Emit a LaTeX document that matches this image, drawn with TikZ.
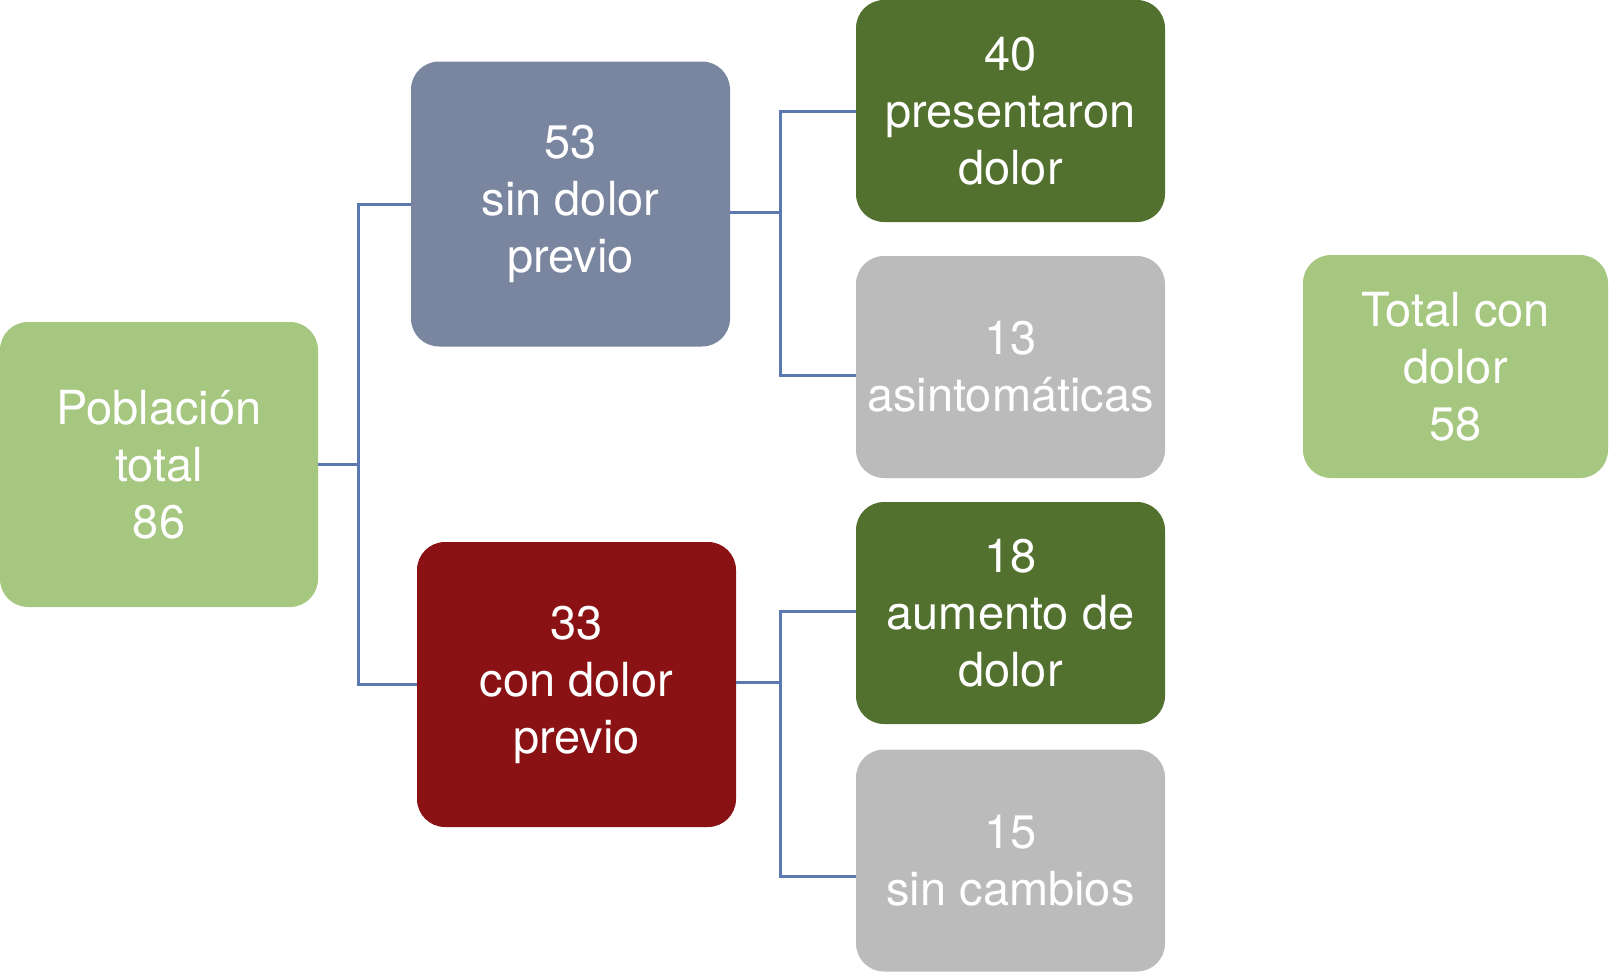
\documentclass[tikz,border=0pt]{standalone}
\usepackage{fontspec}
\setmainfont{TeX Gyre Heros}
\definecolor{lgreen}{HTML}{A6C780}
\definecolor{slate}{HTML}{7A86A0}
\definecolor{dred}{HTML}{8B1214}
\definecolor{dgreen}{HTML}{53712E}
\definecolor{lgray}{HTML}{BBBBBB}
\definecolor{conncol}{HTML}{5B79B1}
\begin{document}
\begin{tikzpicture}[x=1pt,y=-1pt,
  box/.style={rectangle, rounded corners=28pt, inner sep=0pt, align=center,
    text=white, font=\fontsize{47}{57}\selectfont},
  bigbox/.style={box, minimum width=319pt, minimum height=285pt},
  smallbox/.style={box, minimum width=309pt, minimum height=222pt},
  conn/.style={draw=conncol, line width=3pt}]
\fill[white] (0,0) rectangle (1612,972);
\useasboundingbox (0,0) rectangle (1612,972);

\node[bigbox, fill=lgreen, minimum width=318pt] (pob) at (159,464.5) {Población\\total\\86};
\node[bigbox, fill=slate] (sdp) at (570.5,204) {53\\sin dolor\\previo};
\node[bigbox, fill=dred] (cdp) at (576.5,684.5) {33\\con dolor\\previo};
\node[smallbox, fill=dgreen] (p40) at (1010.5,111) {40\\presentaron\\dolor};
\node[smallbox, fill=lgray] (a13) at (1010.5,367) {13\\asintomáticas};
\node[smallbox, fill=dgreen] (a18) at (1010.5,613) {18\\aumento de\\dolor};
\node[smallbox, fill=lgray] (s15) at (1010.5,860.5) {15\\sin cambios};
\node[smallbox, fill=lgreen, minimum width=305pt, minimum height=223pt] (tot) at (1455.5,366.5) {Total con\\dolor\\58};

\draw[conn] (pob.east) -- ++(40,0) coordinate (j0);
\draw[conn] (sdp.west) -| (j0) |- (cdp.west);
\draw[conn] ([yshift=-8pt]sdp.east) -- ++(50,0) coordinate (j1);
\draw[conn] (p40.west) -| (j1) |- ([yshift=-8pt]a13.west);
\draw[conn] ([yshift=2pt]cdp.east) -- ++(44,0) coordinate (j2);
\draw[conn] ([yshift=2pt]a18.west) -| (j2) |- ([yshift=-15.5pt]s15.west);
\end{tikzpicture}
\end{document}
